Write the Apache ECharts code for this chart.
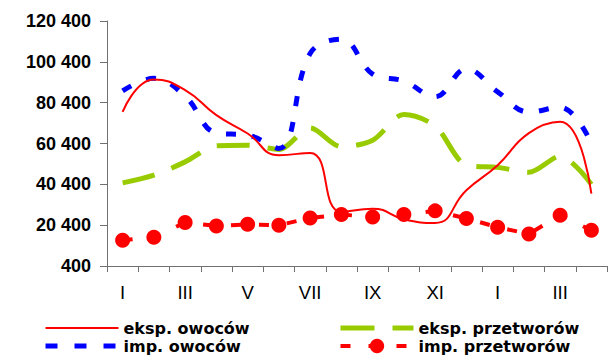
<!DOCTYPE html>
<html>
<head>
<meta charset="utf-8">
<script src="https://cdn.jsdelivr.net/npm/echarts@6/dist/echarts.min.js"></script>
<style>
  html, body { margin: 0; padding: 0; background: #fff; }
  #chart { width: 609px; height: 362px; }
</style>
</head>
<body>
<div id="chart"></div>
<script>
const months = ['I', 'II', 'III', 'IV', 'V', 'VI', 'VII', 'VIII', 'IX', 'X', 'XI', 'XII', 'I', 'II', 'III', 'IV']

const ekspOwocow     = [75900, 91800, 86600, 74300, 65300, 54700, 55800, 26900, 28500, 23300, 21500, 37500, 49800, 65500, 71000, 35900]
const impOwocow      = [86200, 92300, 83600, 65500, 64500, 58000, 104500, 111500, 94400, 91000, 83300, 97000, 85700, 75800, 78200, 60500]
const ekspPrzetworow = [41100, 44900, 51400, 59300, 59600, 57500, 68000, 58800, 62000, 74600, 69000, 49800, 48700, 46300, 54200, 40500]
const impPrzetworow  = [13000, 14500, 21700, 20000, 20800, 20400, 23900, 25600, 24400, 25600, 27400, 23700, 19400, 16100, 25300, 17900]

const yMin = 400
const yMax = 120400
const yStep = 20000

const C = { axis: '#707070', text: '#000', red: '#ff0000', blue: '#0000ff', green: '#99cc00' }

const fmt = v => String(v).replace(/\B(?=(\d{3})+(?!\d))/g, ' ')

const legendText = { color: C.text, fontFamily: 'DejaVu Sans', fontWeight: 'bold', fontSize: 16, lineHeight: 16 }
const noMark = { opacity: 0 }

function buildOption() {
  return {
    animation: false,
    grid: { left: 107, right: 2, top: 21, height: 245, containLabel: false },
    legend: [
      {
        data: [
          { name: 'eksp. owoców', itemStyle: noMark, lineStyle: { width: 2, type: 'solid' } },
          { name: 'imp. owoców', itemStyle: noMark, lineStyle: { width: 5, type: [12, 17] } },
        ],
        orient: 'vertical', left: 43, top: 320, padding: 0,
        itemWidth: 73, itemHeight: 18, itemGap: 2,
        textStyle: legendText,
      },
      {
        data: [
          { name: 'eksp. przetworów', itemStyle: noMark, lineStyle: { width: 5, type: [34, 18] } },
          { name: 'imp. przetworów', lineStyle: { width: 4, type: [10, 18] } },
        ],
        orient: 'vertical', left: 338, top: 320, padding: 0,
        itemWidth: 73, itemHeight: 18, itemGap: 2,
        textStyle: legendText,
      },
    ],
    xAxis: {
      type: 'category',
      data: months,
      boundaryGap: true,
      axisLine: { lineStyle: { color: C.axis, width: 1 } },
      axisTick: { show: true, interval: 0, length: 6, lineStyle: { color: C.axis } },
      axisLabel: {
        interval: 1, margin: 17, color: C.text,
        fontFamily: 'Liberation Sans', fontSize: 18.5,
      },
      splitLine: { show: false },
    },
    yAxis: {
      type: 'value',
      min: yMin, max: yMax, interval: yStep,
      axisLine: { show: true, lineStyle: { color: C.axis, width: 1 } },
      axisTick: { show: true, length: 7, lineStyle: { color: C.axis } },
      axisLabel: {
        formatter: fmt, margin: 16, color: C.text,
        fontFamily: 'Liberation Sans', fontWeight: 'bold', fontSize: 18,
      },
      splitLine: { show: false },
    },
    series: [
      {
        name: 'eksp. owoców', type: 'line', data: ekspOwocow,
        symbol: 'none', smooth: 0.5,
        lineStyle: { color: C.red, width: 2 },
        itemStyle: { color: C.red },
        z: 4,
      },
      {
        name: 'imp. owoców', type: 'line', data: impOwocow,
        symbol: 'none', smooth: 0.4,
        lineStyle: { color: C.blue, width: 5, type: [10, 16] },
        itemStyle: { color: C.blue },
        z: 3,
      },
      {
        name: 'eksp. przetworów', type: 'line', data: ekspPrzetworow,
        symbol: 'none', smooth: 0.3,
        lineStyle: { color: C.green, width: 5, type: [33, 18] },
        itemStyle: { color: C.green },
        z: 2,
      },
      {
        name: 'imp. przetworów', type: 'line', data: impPrzetworow,
        symbol: 'circle', symbolSize: 15,
        lineStyle: { color: C.red, width: 4, type: [10, 18] },
        itemStyle: { color: C.red, borderWidth: 0 },
        z: 5,
      },
    ],
  }
}

const chart = echarts.init(document.getElementById('chart'), null, { renderer: 'svg' })
chart.setOption(buildOption())
</script>
</body>
</html>
